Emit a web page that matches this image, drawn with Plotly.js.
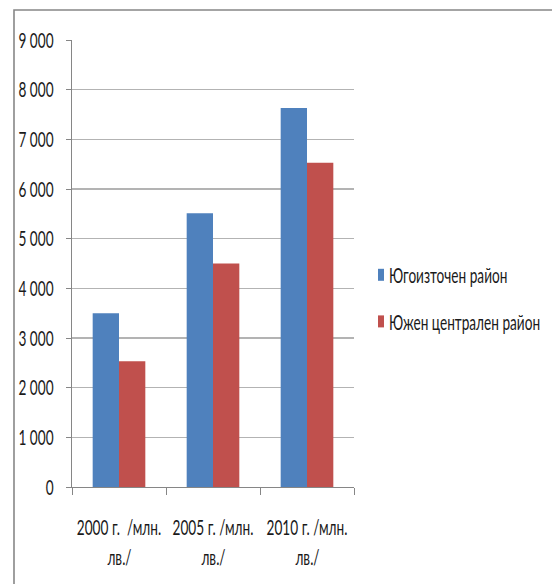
<!DOCTYPE html>
<html>
<head>
<meta charset="utf-8">
<script src="https://cdn.plot.ly/plotly-3.0.1.min.js"></script>
<style>html,body{margin:0;padding:0;background:#fff}</style>
</head>
<body>
<div id="chart" style="width:552px;height:584px"></div>
<script>
// Categories (years, values in million BGN) and their two-line labels
const categories = ['2000 г. /млн. лв./', '2005 г. /млн. лв./', '2010 г. /млн. лв./'];
const labelLine1 = ['2000 г.\u00a0 /млн.', '2005 г. /млн.', '2010 г. /млн.'];
const labelLine2 = ['лв./', 'лв./', 'лв./'];

// Series
const seriesNames = ['Югоизточен район', 'Южен централен район'];
const southeast = [3500, 5510, 7630];
const southCentral = [2530, 4500, 6530];

// Value axis ticks
const yTicks = [0, 1000, 2000, 3000, 4000, 5000, 6000, 7000, 8000, 9000];

const FONT = 'Lato, "Open Sans", sans-serif';
const FSIZE = 22;
const TEXT = '#1a1a1a';
const SQUEEZE = 0.62;   // horizontal compression of all chart text

// Plot area in pixels, used to place the outer frame in paper units
const W = 552, H = 584, M = {l: 72, r: 198, t: 40, b: 97, autoexpand: false};
const pw = W - M.l - M.r, ph = H - M.t - M.b;
const px = v => (v - M.l) / pw;
const py = v => (H - M.b - v) / ph;

const traces = [
  {type: 'bar', name: seriesNames[0], x: categories, y: southeast,
   marker: {color: '#4F81BD'}, legendgroup: 'a', hoverinfo: 'y'},
  {type: 'bar', name: seriesNames[1], x: categories, y: southCentral,
   marker: {color: '#C0504D'}, legendgroup: 'b', hoverinfo: 'y'}
];

const annotations = categories.map((c, i) => ({
  x: c, xref: 'x', y: 0, yref: 'paper', yanchor: 'middle', yshift: -69,
  text: labelLine2[i], showarrow: false, font: {family: FONT, size: FSIZE, color: TEXT}
}));

const layout = {
  width: W, height: H,
  margin: M,
  paper_bgcolor: '#fff', plot_bgcolor: '#fff',
  font: {family: FONT, size: FSIZE, color: TEXT},
  separators: ', ',
  barmode: 'group', bargap: 0.44, bargroupgap: 0,
  showlegend: true,
  legend: {xref: 'container', yref: 'container', x: 349 / W, xanchor: 'left',
           y: 1 - 254 / H, yanchor: 'top',
           font: {family: FONT, size: FSIZE, color: TEXT},
           traceorder: 'grouped', tracegroupgap: 15, bgcolor: 'rgba(0,0,0,0)'},
  xaxis: {
    type: 'category', tickmode: 'array', tickvals: categories, ticktext: labelLine1,
    tickangle: 0,
    tickson: 'boundaries', ticks: 'outside', ticklen: 7, tickcolor: '#868686', tickwidth: 1,
    showline: true, linecolor: '#868686', linewidth: 1, showgrid: false,
    ticklabelstandoff: 21, tickfont: {family: FONT, size: FSIZE, color: TEXT}
  },
  yaxis: {
    range: [0, 9000], tickmode: 'array', tickvals: yTicks, tickformat: ',d',
    ticks: 'outside', ticklen: 5, tickcolor: '#868686', tickwidth: 1,
    showline: true, linecolor: '#868686', linewidth: 1,
    showgrid: true, gridcolor: '#b3b3b3', gridwidth: 1.3, zeroline: false,
    ticklabelstandoff: 8, tickfont: {family: FONT, size: FSIZE, color: TEXT}
  },
  annotations: annotations,
  shapes: [{
    type: 'rect', xref: 'paper', yref: 'paper',
    x0: px(14), x1: px(600), y0: py(640), y1: py(10),
    line: {color: '#878787', width: 1.6}, fillcolor: 'rgba(0,0,0,0)', layer: 'below'
  }]
};

Plotly.newPlot('chart', traces, layout, {displayModeBar: false, staticPlot: true}).then(() => {
  // tall, narrow lettering: squeeze every label horizontally about its anchor point
  document.querySelectorAll('.xtick text, .ytick text, .legendtext, .annotation-text').forEach(t => {
    const ax = parseFloat(t.getAttribute('x')) || 0;
    const prev = t.getAttribute('transform') || '';
    t.setAttribute('transform',
      `${prev} translate(${ax},0) scale(${SQUEEZE},1) translate(${-ax},0)`.trim());
  });
  // narrow legend keys, set just before their labels
  document.querySelectorAll('.legendpoints path').forEach(p => {
    p.setAttribute('transform', 'translate(32,0) scale(0.5,1)');
  });
});
</script>
</body>
</html>
